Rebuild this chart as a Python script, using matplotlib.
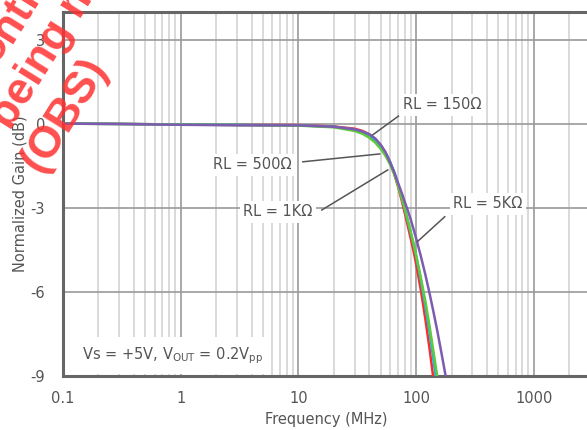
import matplotlib
matplotlib.use("Agg")
import matplotlib.pyplot as plt
from matplotlib.ticker import FixedLocator, NullFormatter

# ---- data ----
freq_mhz = [0.1, 0.3, 1, 3, 10, 20, 30, 35, 40, 45, 50, 55, 60, 65, 70, 75,
            80, 85, 90, 95, 100, 110, 120, 130, 140, 150, 160, 175, 185]
gain_150 = [0.0, -0.01, -0.03, -0.04, -0.05, -0.10, -0.18, -0.26, -0.38, -0.56,
            -0.78, -1.04, -1.36, -1.76, -2.22, -2.70, -3.18, -3.65, -4.10, -4.54,
            -5.00, -5.97, -6.99, -8.02, -9.07, -10.1, -11.1, -12.6, -13.6]
gain_500 = [0.0, -0.01, -0.03, -0.04, -0.06, -0.11, -0.21, -0.30, -0.43, -0.60,
            -0.81, -1.06, -1.36, -1.72, -2.14, -2.58, -3.04, -3.48, -3.90, -4.30,
            -4.72, -5.62, -6.55, -7.45, -8.40, -9.30, -10.2, -11.5, -12.4]
gain_1k = [0.0, -0.01, -0.03, -0.05, -0.07, -0.13, -0.26, -0.36, -0.50, -0.68,
           -0.90, -1.15, -1.45, -1.80, -2.20, -2.62, -3.03, -3.45, -3.86, -4.27,
           -4.68, -5.52, -6.35, -7.22, -8.10, -8.92, -9.80, -11.0, -11.9]
gain_5k = [0.0, -0.01, -0.04, -0.06, -0.06, -0.11, -0.20, -0.28, -0.38, -0.53,
           -0.75, -1.02, -1.38, -1.72, -2.10, -2.44, -2.78, -3.10, -3.42, -3.76,
           -4.09, -4.75, -5.40, -6.05, -6.69, -7.31, -7.93, -8.82, -9.41]
series_labels = ["RL = 150Ω", "RL = 500Ω", "RL = 1KΩ", "RL = 5KΩ"]
series_colors = ["#ff2a2a", "#1fb0e6", "#5ccb3c", "#7d5bb0"]
x_ticks = [0.1, 1, 10, 100, 1000]
x_ticklabels = ["0.1", "1", "10", "100", "1000"]
y_ticks = [-9, -6, -3, 0, 3]
y_ticklabels = ["-9", "-6", "-3", "0", "3"]

W, H = 587, 430
fig = plt.figure(figsize=(W / 100, H / 100), dpi=100)
plt.rcParams['font.family'] = ['DejaVu Sans']
txt_col = "#555555"

ax = fig.add_axes([63 / W, 1 - 376 / H, 527 / W, (376 - 11.5) / H])
ax.set_xscale("log")
ax.set_xlim(0.1, 3000)
ax.set_ylim(-9, 4)

minor = [m * 10.0 ** e for e in range(-1, 4) for m in range(2, 10)]
ax.xaxis.set_major_locator(FixedLocator(x_ticks))
ax.xaxis.set_minor_locator(FixedLocator(minor))
ax.xaxis.set_minor_formatter(NullFormatter())
ax.set_xticks(x_ticks)
ax.set_xticklabels(x_ticklabels)
ax.set_yticks(y_ticks)
ax.set_yticklabels(y_ticklabels)
ax.tick_params(axis="both", which="both", length=0, labelsize=10.5, colors=txt_col)
ax.tick_params(axis="x", pad=11)
ax.tick_params(axis="y", pad=13)

ax.grid(True, which="major", axis="both", color="#9a9a9a", lw=1.2)
ax.grid(True, which="minor", axis="x", color="#cfcfcf", lw=1.1)
ax.set_axisbelow(True)

for s in ["left", "bottom", "top"]:
    ax.spines[s].set_color("#666666")
    ax.spines[s].set_linewidth(2.2)
ax.spines["right"].set_visible(False)

series = [gain_150, gain_500, gain_1k, gain_5k]
for g, c in zip(series, series_colors):
    ax.plot(freq_mhz, g, color=c, lw=1.8, solid_joinstyle="round", zorder=3)

ax.set_xlabel("Frequency (MHz)", fontsize=10.5, color=txt_col)
ax.xaxis.set_label_coords(0.5, -0.099)
ax.set_ylabel("Normalized Gain (dB)", fontsize=10.5, color=txt_col)
ax.yaxis.set_label_coords(-0.068, 0.5)

# annotations: text positions and leader lines (data coords)
lead = "#555555"
box = dict(facecolor="white", edgecolor="none", pad=2.5)
ann = [
    (series_labels[0], (165, 0.67), (76.9, 0.38), (42.8, -0.40)),
    (series_labels[1], (4.09, -1.47), (10.9, -1.36), (49.1, -1.08)),
    (series_labels[2], (6.67, -3.15), (15.8, -3.08), (57.4, -1.65)),
    (series_labels[3], (405, -2.86), (175, -3.32), (103, -4.2)),
]
for lab, tp, p0, p1 in ann:
    ax.plot([p0[0], p1[0]], [p0[1], p1[1]], color=lead, lw=1.1, zorder=4)
    ax.text(tp[0], tp[1], lab, ha="center", va="center", fontsize=10.5,
            color=txt_col, bbox=box, zorder=5)

ax.text(0.144, -8.28, r"Vs = +5V, V$_{\mathregular{OUT}}$ = 0.2V$_{\mathregular{pp}}$",
        ha="left", va="center", fontsize=10.5, color=txt_col,
        bbox=dict(facecolor="white", edgecolor="none", pad=6), zorder=5)

# watermark (partly outside the figure, as in the reference)
def px(x, y):
    return x / W, 1 - y / H
wm = dict(rotation=58, rotation_mode="anchor", fontsize=32, fontweight="bold",
          family="Liberation Sans", color="#ff3030", alpha=0.85, zorder=10)
fig.text(*px(65, 115), "(OBS)", ha="center", va="center", **wm)
fig.text(*px(10.6, 131), "being made obsolete", ha="left", va="baseline", **wm)
fig.text(*px(10.9, 43.6), "Product disco", ha="right", va="baseline", **wm)
fig.text(*px(10.9, 43.6), "ntinued", ha="left", va="baseline", **wm)

fig.savefig("out.png", dpi=100)
